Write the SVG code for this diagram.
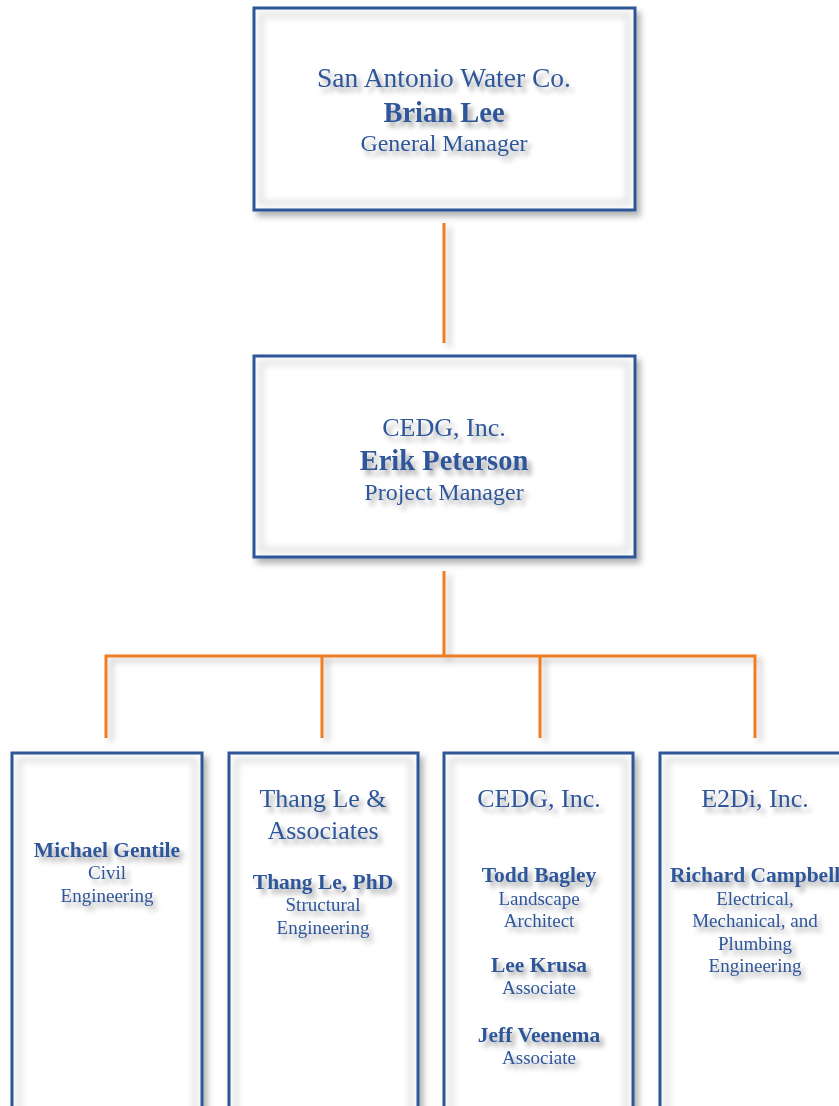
<svg xmlns="http://www.w3.org/2000/svg" width="839" height="1106" viewBox="0 0 839 1106">
<defs>
<filter id="ts" x="-20%" y="-50%" width="140%" height="200%">
<feDropShadow dx="4" dy="5" stdDeviation="2.5" flood-color="#000" flood-opacity="0.35"/>
</filter>
<filter id="bs" x="-10%" y="-10%" width="120%" height="120%">
<feDropShadow dx="4" dy="5" stdDeviation="3" flood-color="#000" flood-opacity="0.3"/>
</filter>
<filter id="blur" x="-10%" y="-10%" width="120%" height="120%">
<feGaussianBlur stdDeviation="3"/>
</filter>
<filter id="ls" filterUnits="userSpaceOnUse" x="0" y="0" width="839" height="1106">
<feDropShadow dx="5" dy="4" stdDeviation="3" flood-color="#000" flood-opacity="0.25"/>
</filter>
</defs>
<style>
.box{fill:#fff;stroke:#2f5699;stroke-width:3;filter:url(#bs)}
.inner{fill:none;stroke:#000;stroke-opacity:0.1;stroke-width:6;filter:url(#blur)}
text{font-family:"Liberation Serif","DejaVu Serif",serif;fill:#2f5699;text-anchor:middle;filter:url(#ts)}
.co{font-size:26px}
.nm{font-size:28.5px;font-weight:bold}
.tt{font-size:24px}
.sn{font-size:21.5px;font-weight:bold}
.st{font-size:19px}
.con{fill:none;stroke:#ef7d22;stroke-width:3;filter:url(#ls)}
</style>
<rect width="839" height="1106" fill="#fff"/>
<g id="connectors">
<path class="con" d="M444 223V343"/>
<path class="con" d="M444 571V656"/>
<path class="con" d="M106 738V656H755V738"/>
<path class="con" d="M322 656V738"/>
<path class="con" d="M540 656V738"/>
</g>
<g id="n-sawc">
<rect class="box" x="254" y="8" width="381" height="202"/>
<rect class="inner" x="261" y="15" width="367" height="188"/>
<text class="co" x="444" y="87" style="font-size:27.5px">San Antonio Water Co.</text>
<text class="nm" x="444" y="122">Brian Lee</text>
<text class="tt" x="444" y="151">General Manager</text>
</g>
<g id="n-cedg">
<rect class="box" x="254" y="356" width="381" height="201"/>
<rect class="inner" x="261" y="363" width="367" height="187"/>
<text class="co" x="444" y="436">CEDG, Inc.</text>
<text class="nm" x="444" y="470">Erik Peterson</text>
<text class="tt" x="444" y="500">Project Manager</text>
</g>
<g id="n-gentile">
<rect class="box" x="12" y="753" width="190" height="370"/>
<rect class="inner" x="19" y="760" width="176" height="360"/>
<text class="sn" x="107" y="857">Michael Gentile</text>
<text class="st" x="107" y="879">Civil</text>
<text class="st" x="107" y="902">Engineering</text>
</g>
<g id="n-thangle">
<rect class="box" x="229" y="753" width="189" height="370"/>
<rect class="inner" x="236" y="760" width="175" height="360"/>
<text class="co" x="323" y="807">Thang Le &amp;</text>
<text class="co" x="323" y="839">Associates</text>
<text class="sn" x="323" y="889">Thang Le, PhD</text>
<text class="st" x="323" y="911">Structural</text>
<text class="st" x="323" y="934">Engineering</text>
</g>
<g id="n-cedg2">
<rect class="box" x="444" y="753" width="189" height="370"/>
<rect class="inner" x="451" y="760" width="175" height="360"/>
<text class="co" x="539" y="807">CEDG, Inc.</text>
<text class="sn" x="539" y="882">Todd Bagley</text>
<text class="st" x="539" y="905">Landscape</text>
<text class="st" x="539" y="927">Architect</text>
<text class="sn" x="539" y="972">Lee Krusa</text>
<text class="st" x="539" y="994">Associate</text>
<text class="sn" x="539" y="1042">Jeff Veenema</text>
<text class="st" x="539" y="1064">Associate</text>
</g>
<g id="n-e2di">
<rect class="box" x="660" y="753" width="195" height="370"/>
<rect class="inner" x="667" y="760" width="181" height="360"/>
<text class="co" x="755" y="807">E2Di, Inc.</text>
<text class="sn" x="755" y="882">Richard Campbell</text>
<text class="st" x="755" y="905">Electrical,</text>
<text class="st" x="755" y="927">Mechanical, and</text>
<text class="st" x="755" y="950">Plumbing</text>
<text class="st" x="755" y="972">Engineering</text>
</g>
</svg>
